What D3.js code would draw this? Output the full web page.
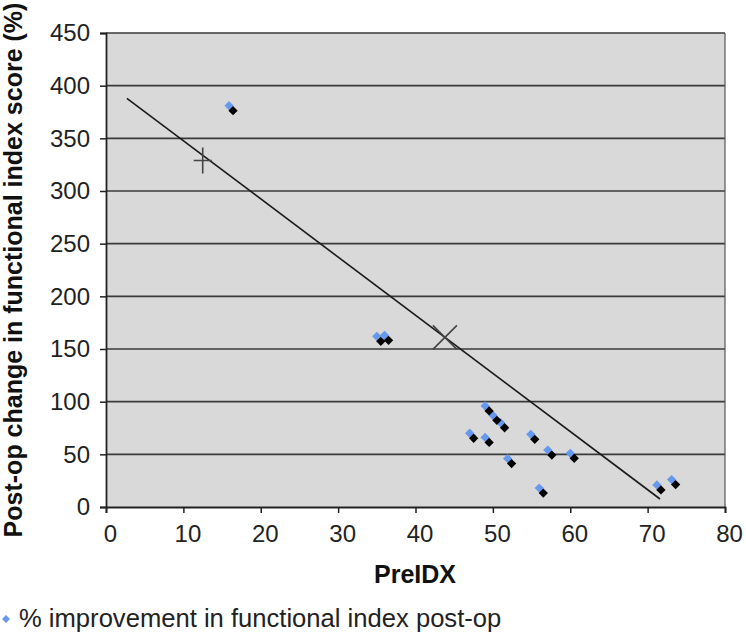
<!DOCTYPE html>
<html>
<head>
<meta charset="utf-8">
<script src="https://cdn.jsdelivr.net/npm/d3@7"></script>
<style>
  body { margin: 0; background: #fff; }
  svg { display: block; font-family: "Liberation Sans", Arial, Helvetica, sans-serif; }
</style>
</head>
<body>
<div id="chart"></div>
<script>
// values
const preIdx = [15.9, 35.0, 36.0, 49.0, 50.0, 51.0, 47.0, 49.0, 51.9, 54.9, 57.1, 60.0, 56.0, 71.2, 73.1];
const improvement = [381, 162, 163, 96, 87, 80, 70, 66, 46, 69, 54, 51, 18, 21, 26];
const trendX = [2.7, 71.6];
const trendY = [388, 7.6];
const plusMark = [12.5, 329];
const crossMark = [43.8, 161];
const xTicks = [0, 10, 20, 30, 40, 50, 60, 70, 80];
const yTicks = [0, 50, 100, 150, 200, 250, 300, 350, 400, 450];
const legendLabel = "% improvement in functional index post-op";

const width = 746, height = 633;
const margin = { top: 33, right: 21, bottom: 126, left: 106 };

const x = d3.scaleLinear().domain([0, 80]).range([margin.left, width - margin.right]);
const y = d3.scaleLinear().domain([0, 450]).range([height - margin.bottom, margin.top]);

const svg = d3.select("#chart").append("svg")
  .attr("width", width)
  .attr("height", height)
  .attr("viewBox", [0, 0, width, height]);

// plot background
svg.append("rect")
  .attr("x", x(0)).attr("y", y(450))
  .attr("width", x(80) - x(0)).attr("height", y(0) - y(450))
  .attr("fill", "#d9d9d9");

// gridlines
svg.append("g")
  .selectAll("line")
  .data(yTicks.filter(d => d > 0))
  .join("line")
  .attr("x1", x(0)).attr("x2", x(80))
  .attr("y1", d => y(d)).attr("y2", d => y(d))
  .attr("stroke", "#3a3a3a")
  .attr("stroke-width", 1.6);

// right border
svg.append("line")
  .attr("x1", x(80)).attr("x2", x(80))
  .attr("y1", y(450)).attr("y2", y(0))
  .attr("stroke", "#555").attr("stroke-width", 1.2);

const gx = svg.append("g")
  .attr("transform", `translate(0,${y(0)})`)
  .call(d3.axisBottom(x).tickValues(xTicks).tickSize(6).tickPadding(12).tickFormat(d3.format("d")));
const gy = svg.append("g")
  .attr("transform", `translate(${x(0)},0)`)
  .call(d3.axisLeft(y).tickValues(yTicks).tickSize(6).tickPadding(10).tickFormat(d3.format("d")));

[gx, gy].forEach(g => {
  g.select(".domain").attr("stroke", "#222").attr("stroke-width", 1.8);
  g.selectAll(".tick line").attr("stroke", "#222").attr("stroke-width", 1.5);
  g.selectAll(".tick text")
    .attr("fill", "#222")
    .attr("font-size", 24)
    .attr("font-family", "'Liberation Sans', Arial, sans-serif");
});
gx.selectAll(".tick text").attr("dx", 4);

// trendline
svg.append("line")
  .attr("x1", x(trendX[0])).attr("y1", y(trendY[0]))
  .attr("x2", x(trendX[1])).attr("y2", y(trendY[1]))
  .attr("stroke", "#1a1a1a")
  .attr("stroke-width", 1.6);

// markers: blue diamond with a dark diamond shadow
const diamond = d3.symbol().type(d3.symbolDiamond2).size(55);
const pts = preIdx.map((v, i) => ({ x: v, y: improvement[i] }));

svg.append("g")
  .selectAll("path")
  .data(pts)
  .join("path")
  .attr("d", diamond)
  .attr("transform", d => `translate(${x(d.x)},${y(d.y)})`)
  .attr("fill", "#6699ee");

svg.append("g")
  .selectAll("path")
  .data(pts)
  .join("path")
  .attr("d", diamond)
  .attr("transform", d => `translate(${x(d.x) + 4},${y(d.y) + 5})`)
  .attr("fill", "#000");

// plus marker
const px = x(plusMark[0]), py = y(plusMark[1]);
svg.append("path")
  .attr("d", `M${px - 9},${py} H${px + 9} M${px},${py - 13} V${py + 13}`)
  .attr("stroke", "#444").attr("stroke-width", 1.6).attr("fill", "none");

// cross marker
const cx = x(crossMark[0]), cy = y(crossMark[1]);
svg.append("path")
  .attr("d", `M${cx - 12},${cy - 12} L${cx + 12},${cy + 12} M${cx + 12},${cy - 12} L${cx - 12},${cy + 12}`)
  .attr("stroke", "#444").attr("stroke-width", 1.6).attr("fill", "none");

// axis titles
svg.append("text")
  .attr("x", 415)
  .attr("y", 583)
  .attr("text-anchor", "middle")
  .attr("font-size", 25)
  .attr("font-weight", "bold")
  .attr("fill", "#111")
  .text("PreIDX");

svg.append("text")
  .attr("transform", `translate(22,${270}) rotate(-90)`)
  .attr("text-anchor", "middle")
  .attr("font-size", 25)
  .attr("font-weight", "bold")
  .attr("fill", "#111")
  .text("Post-op change in functional index score (%)");

// legend
svg.append("path")
  .attr("d", d3.symbol().type(d3.symbolDiamond2).size(40))
  .attr("transform", "translate(6,619)")
  .attr("fill", "#6699ee");
svg.append("text")
  .attr("x", 19)
  .attr("y", 627)
  .attr("font-size", 25.6)
  .attr("fill", "#222")
  .text(legendLabel);
</script>
</body>
</html>
